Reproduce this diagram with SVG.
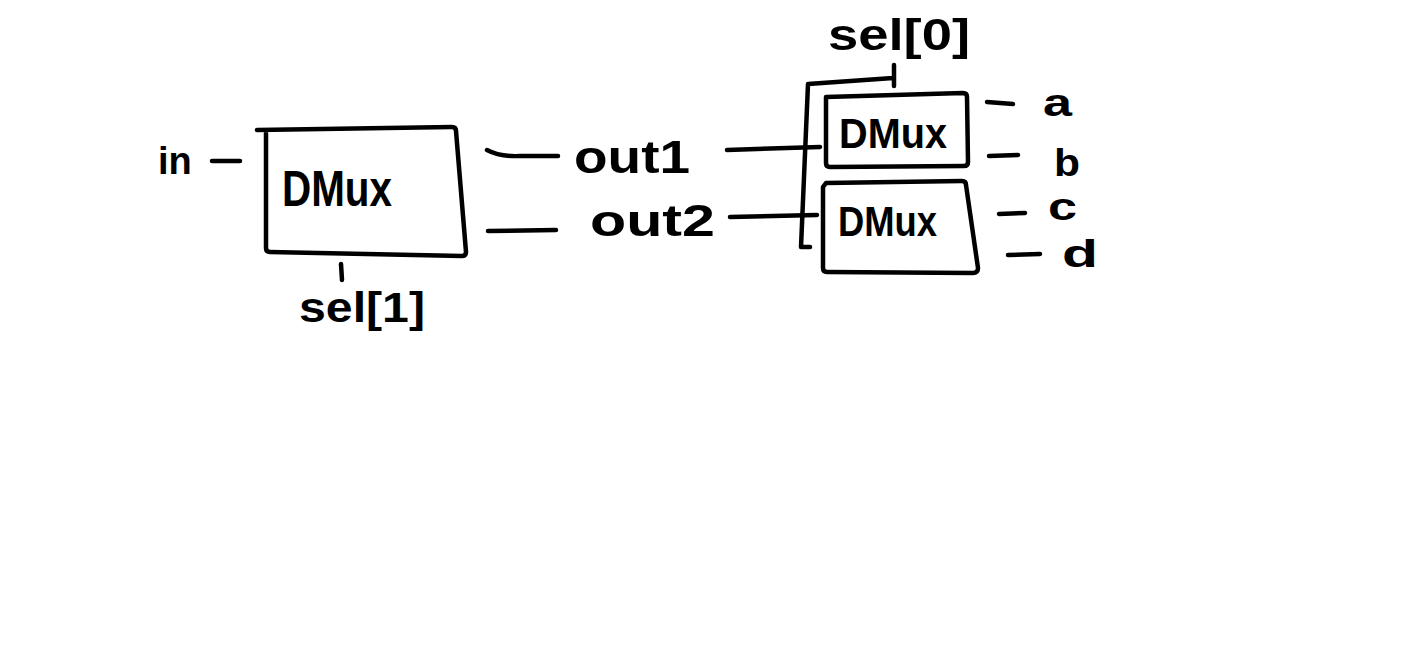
<svg xmlns="http://www.w3.org/2000/svg" width="1416" height="672" viewBox="0 0 1416 672">
<style>
.s{fill:none;stroke:#000;stroke-width:4.5;stroke-linecap:round;stroke-linejoin:round}
.t{font-family:"Liberation Sans",Arial,sans-serif;fill:#000;font-weight:bold}
.l{font-size:38px}
</style>
<rect width="1416" height="672" fill="#fff"/>
<g id="connectors">
<path class="s" d="M212 161 L240 161"/>
<path class="s" d="M341 264 L342 280"/>
<path class="s" d="M487 150 Q500 157 520 156 L558 156"/>
<path class="s" d="M488 231 L556 230"/>
<path class="s" d="M727 150 L820 147"/>
<path class="s" d="M730 217 L817 215"/>
<path class="s" d="M810 247 L801 247 L808 84 L893 78 M894 65 L894 86"/>
<path class="s" d="M987 102 L1013 104"/>
<path class="s" d="M989 156 L1018 155"/>
<path class="s" d="M999 214 L1025 213"/>
<path class="s" d="M1008 255 L1040 254"/>
</g>
<g id="in"><text class="t" x="158" y="174" font-size="38">in</text></g>
<g id="dmux1">
<path class="s" d="M257 130 L452 127 Q456 127 456 131 L466 252 Q466 256 462 256 L270 252 Q266 252 266 248 L266 133"/>
<text class="t" x="282" y="206" font-size="50" textLength="110" lengthAdjust="spacingAndGlyphs">DMux</text>
</g>
<g id="sel1"><text class="t" x="299" y="322" font-size="42" textLength="126" lengthAdjust="spacingAndGlyphs">sel[1]</text></g>
<g id="out1"><text class="t" x="574" y="173" font-size="46" textLength="116" lengthAdjust="spacingAndGlyphs">out1</text></g>
<g id="out2"><text class="t" x="590" y="236" font-size="44" textLength="125" lengthAdjust="spacingAndGlyphs">out2</text></g>
<g id="sel0"><text class="t" x="828" y="50" font-size="44" textLength="142" lengthAdjust="spacingAndGlyphs">sel[0]</text></g>
<g id="dmux2">
<path class="s" d="M826 97 L963 93 Q967 93 967 97 L968 162 Q968 166 964 166 L830 167 Q826 167 826 163 Z"/>
<text class="t" x="839" y="148" font-size="42" textLength="108" lengthAdjust="spacingAndGlyphs">DMux</text>
</g>
<g id="dmux3">
<path class="s" d="M826 183 L962 181 Q966 181 966 185 L978 268 Q978 273 973 273 L827 272 Q823 272 823 268 L823 187 Z"/>
<text class="t" x="838" y="236" font-size="42" textLength="99" lengthAdjust="spacingAndGlyphs">DMux</text>
</g>
<g id="a"><text class="t l" x="1043" y="116" textLength="29" lengthAdjust="spacingAndGlyphs">a</text></g>
<g id="b"><text class="t l" x="1054" y="176" textLength="26" lengthAdjust="spacingAndGlyphs">b</text></g>
<g id="c"><text class="t l" x="1048" y="220" textLength="29" lengthAdjust="spacingAndGlyphs">c</text></g>
<g id="d"><text class="t l" x="1062" y="267" textLength="36" lengthAdjust="spacingAndGlyphs">d</text></g>
</svg>
